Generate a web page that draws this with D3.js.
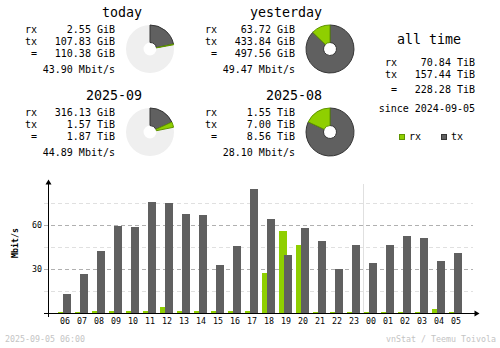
<!DOCTYPE html>
<html>
<head>
<meta charset="utf-8">
<script src="https://cdn.jsdelivr.net/npm/d3@7"></script>
<style>
  html, body { margin: 0; padding: 0; background: #ffffff; }
  svg { display: block; }
  text { font-family: "DejaVu Sans Mono", "Liberation Mono", monospace; }
</style>
</head>
<body>
<svg id="chart" width="500" height="348"></svg>
<script>
// ---- summary data ----
const periods   = ["today", "yesterday", "2025-09", "2025-08"];
const rxValue   = [2.55, 63.72, 316.13, 1.55];
const rxUnit    = ["GiB", "GiB", "GiB", "TiB"];
const txValue   = [107.83, 433.84, 1.57, 7.00];
const txUnit    = ["GiB", "GiB", "TiB", "TiB"];
const totValue  = [110.38, 497.56, 1.87, 8.56];
const totUnit   = ["GiB", "GiB", "TiB", "TiB"];
const rateValue = [43.90, 49.47, 44.89, 28.10];

const allTimeRx    = 70.84;
const allTimeTx    = 157.44;
const allTimeTotal = 228.28;
const allTimeUnit  = "TiB";
const sinceDate    = "2024-09-05";

// ---- hourly rates (Mbit/s) ----
const hours  = ["06","07","08","09","10","11","12","13","14","15","16","17",
                "18","19","20","21","22","23","00","01","02","03","04","05"];
const rxRate = [1.0, 1.0, 1.6, 1.6, 1.6, 1.6, 3.9, 1.6, 1.6, 1.6, 1.6, 1.6,
                27.5, 56.1, 46.6, 0.9, 0.9, 0.9, 0.9, 0.9, 0.9, 0.9, 3.0, 0.9];
const txRate = [13.2, 26.8, 42.5, 59.5, 58.9, 75.9, 75.2, 67.7, 67.0, 33.0, 45.9, 84.8,
                64.3, 39.8, 58.2, 49.3, 30.2, 46.6, 34.3, 46.6, 52.7, 51.4, 35.7, 41.1];
const yMajorTicks = [30, 60];
const yMinorTicks = [15, 45, 75];
const dayBreakAfter = "23";

const footerDate   = "2025-09-05 06:00";
const footerCredit = "vnStat / Teemu Toivola";

// ---- colours ----
const C = {
  text: "#000000",
  rx: "#8fcf00", rxEdge: "#5f9400",
  tx: "#606060", txEdge: "#353535",
  pieBg: "#efefef",
  line: "#b0b0b0", lineL: "#e0e0e0",
  footer: "#c4c4c4"
};

const svg = d3.select("#chart");
const toGiB = (v, u) => u === "TiB" ? v * 1024 : v;
const fmt = (v, u) => v.toFixed(2) + " " + u;

// ---- summary blocks with donuts ----
const blockOffsets = [[0, 0], [180, 0], [0, 83], [180, 83]];
const pairOf = [1, 0, 3, 2];
const arc = d3.arc().innerRadius(6.5).outerRadius(24);

periods.forEach((p, i) => {
  const [ox, oy] = blockOffsets[i];
  const g = svg.append("g").attr("transform", `translate(${ox},${oy})`);

  g.append("text").attr("x", 142).attr("y", 17).attr("text-anchor", "end")
    .attr("font-size", "13.3px").attr("fill", C.text).text(p);

  const rows = [
    ["rx", fmt(rxValue[i], rxUnit[i]), 33],
    ["tx", fmt(txValue[i], txUnit[i]), 45],
    [" =", fmt(totValue[i], totUnit[i]), 57]
  ];
  rows.forEach(([lab, val, y]) => {
    g.append("text").attr("x", 25).attr("y", y).attr("font-size", "10px")
      .attr("fill", C.text).attr("xml:space", "preserve").text(lab);
    g.append("text").attr("x", 115).attr("y", y).attr("font-size", "10px")
      .attr("text-anchor", "end").attr("fill", C.text).text(val);
  });
  g.append("text").attr("x", 115).attr("y", 73).attr("font-size", "10px")
    .attr("text-anchor", "end").attr("fill", C.text)
    .text(rateValue[i].toFixed(2) + " Mbit/s");

  // donut: share of the larger of the two paired periods
  const total = toGiB(totValue[i], totUnit[i]);
  const other = toGiB(totValue[pairOf[i]], totUnit[pairOf[i]]);
  const share = total / Math.max(total, other);
  const rxShare = toGiB(rxValue[i], rxUnit[i]) / total;
  const end = share * 2 * Math.PI;
  const txEnd = end * (1 - rxShare);

  const pg = g.append("g").attr("transform", "translate(150,49)");
  if (share < 1) {
    pg.append("path").attr("d", arc({startAngle: 0, endAngle: 2 * Math.PI}))
      .attr("fill", C.pieBg);
  }
  pg.append("path").attr("d", arc({startAngle: 0, endAngle: txEnd}))
    .attr("fill", C.tx).attr("stroke", C.txEdge).attr("stroke-width", 1);
  pg.append("path").attr("d", arc({startAngle: txEnd, endAngle: end}))
    .attr("fill", C.rx).attr("stroke", C.rxEdge).attr("stroke-width", 1);
});

// ---- all time block ----
const at = svg.append("g");
at.append("text").attr("x", 429).attr("y", 44).attr("text-anchor", "middle")
  .attr("font-size", "13.3px").attr("fill", C.text).text("all time");
[["rx", allTimeRx, 66], ["tx", allTimeTx, 78], [" =", allTimeTotal, 93]].forEach(([lab, v, y]) => {
  at.append("text").attr("x", 385).attr("y", y).attr("font-size", "10px")
    .attr("xml:space", "preserve").attr("fill", C.text).text(lab);
  at.append("text").attr("x", 475).attr("y", y).attr("font-size", "10px")
    .attr("text-anchor", "end").attr("fill", C.text).text(fmt(v, allTimeUnit));
});
at.append("text").attr("x", 475).attr("y", 112).attr("font-size", "10px")
  .attr("text-anchor", "end").attr("fill", C.text).text("since " + sinceDate);

// legend
const legend = [["rx", C.rx, C.rxEdge, 399], ["tx", C.tx, C.txEdge, 441]];
legend.forEach(([lab, fill, edge, x]) => {
  at.append("rect").attr("x", x + 0.5).attr("y", 134.5).attr("width", 5).attr("height", 5)
    .attr("fill", fill).attr("stroke", edge).attr("stroke-width", 1);
  at.append("text").attr("x", x + 10).attr("y", 140).attr("font-size", "10px")
    .attr("fill", C.text).text(lab);
});

// ---- hourly bar chart ----
const x = d3.scalePoint().domain(hours).range([65, 65 + 23 * 17]);
const y = d3.scaleLinear().domain([0, 90]).range([313, 181]);
const ch = svg.append("g").attr("shape-rendering", "crispEdges");

const gridY = v => Math.round(y(v)) + 0.5;
yMinorTicks.forEach(v => {
  ch.append("line").attr("x1", 44).attr("x2", 473).attr("y1", gridY(v)).attr("y2", gridY(v))
    .attr("stroke", C.lineL).attr("stroke-dasharray", "4,3");
});
yMajorTicks.forEach(v => {
  ch.append("line").attr("x1", 44).attr("x2", 473).attr("y1", gridY(v)).attr("y2", gridY(v))
    .attr("stroke", C.line).attr("stroke-dasharray", "4,3");
  svg.append("text").attr("x", 42).attr("y", y(v) + 3).attr("text-anchor", "end")
    .attr("font-size", "8.3px").attr("fill", C.text).text(v);
});

// day boundary
const breakX = Math.round(x(dayBreakAfter) + 8.5) + 0.5;
ch.append("line").attr("x1", breakX).attr("x2", breakX).attr("y1", 184).attr("y2", 313)
  .attr("stroke", C.lineL);

// bars: rx behind, tx on top
ch.selectAll(".rx").data(hours).join("rect").attr("class", "rx")
  .attr("x", d => x(d) - 7).attr("width", 8)
  .attr("y", (d, i) => y(rxRate[i])).attr("height", (d, i) => y(0) - y(rxRate[i]))
  .attr("fill", C.rx);
ch.selectAll(".tx").data(hours).join("rect").attr("class", "tx")
  .attr("x", d => x(d) - 2).attr("width", 8)
  .attr("y", (d, i) => y(txRate[i])).attr("height", (d, i) => y(0) - y(txRate[i]))
  .attr("fill", C.tx);

// axes
ch.append("line").attr("x1", 48.5).attr("x2", 48.5).attr("y1", 182).attr("y2", 317)
  .attr("stroke", C.text);
ch.append("line").attr("x1", 44).attr("x2", 477).attr("y1", 313.5).attr("y2", 313.5)
  .attr("stroke", C.text);
svg.append("path").attr("d", "M48.5,179.5 L45.5,184.5 L51.5,184.5 Z").attr("fill", C.text);
svg.append("path").attr("d", "M479.5,313.5 L474.5,310.5 L474.5,316.5 Z").attr("fill", C.text);

svg.selectAll(".xl").data(hours).join("text").attr("class", "xl")
  .attr("x", d => x(d)).attr("y", 324).attr("text-anchor", "middle")
  .attr("font-size", "8.3px").attr("fill", C.text).text(d => d);

svg.append("text").attr("transform", "translate(17.5,243) rotate(-90)")
  .attr("text-anchor", "middle").attr("font-size", "8.3px").attr("font-weight", "bold")
  .attr("fill", C.text).text("Mbit/s");

// footer
svg.append("text").attr("x", 5).attr("y", 342).attr("font-size", "8.3px")
  .attr("fill", C.footer).text(footerDate);
svg.append("text").attr("x", 496).attr("y", 342).attr("font-size", "8.3px")
  .attr("text-anchor", "end").attr("fill", C.footer).text(footerCredit);
</script>
</body>
</html>
